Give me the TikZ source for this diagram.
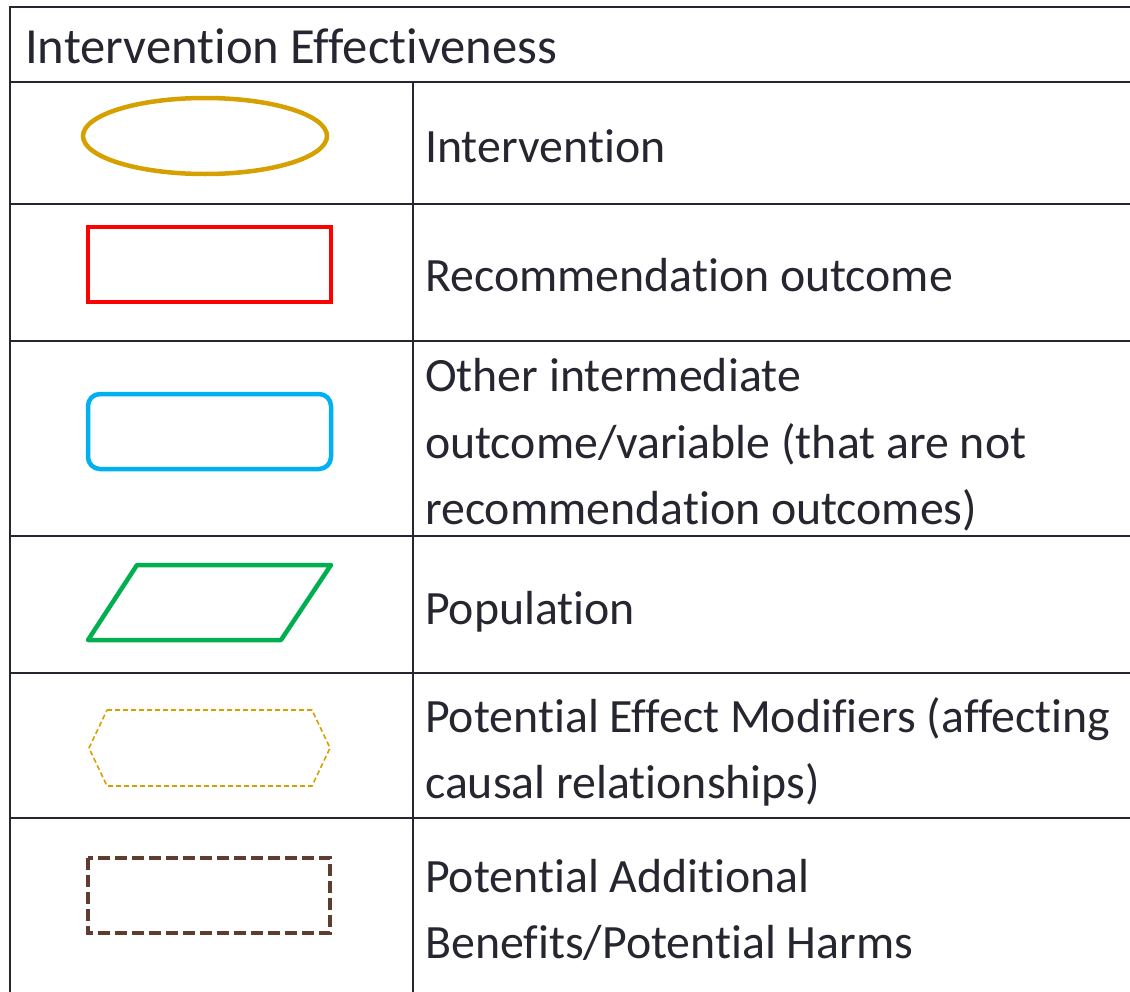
\documentclass[tikz,border=0pt]{standalone}
\usepackage{fontspec}
\setmainfont{Carlito}[Ligatures={NoCommon,NoRare,NoDiscretionary}]
\definecolor{ink}{RGB}{38,38,48}
\definecolor{gold}{RGB}{214,161,0}
\definecolor{sky}{RGB}{0,176,240}
\definecolor{grn}{RGB}{0,176,80}
\definecolor{brn}{RGB}{96,59,47}
\begin{document}
\begin{tikzpicture}[x=1bp,y=-1bp,
  grid/.style={draw=ink,line width=2.2bp},
  lbl/.style={anchor=base west,inner sep=0pt,text=ink,font=\fontsize{48}{66}\selectfont},
  sym/.style={line width=4.5bp}]
\useasboundingbox (0,0) rectangle (1130,992);
% table
\draw[grid] (1135,7) -- (10,7) -- (10,997);
\draw[grid] (10,82) -- (1135,82);
\draw[grid] (10,204) -- (1135,204);
\draw[grid] (10,341) -- (1135,341);
\draw[grid] (10,536) -- (1135,536);
\draw[grid] (10,673) -- (1135,673);
\draw[grid] (10,818) -- (1135,818);
\draw[grid] (413,82) -- (413,997);
% texts
\node[lbl,font=\fontsize{50.8}{66}\selectfont] (title) at (25,63) {Intervention Effectiveness};
\node[lbl] (t1) at (425,162) {Intervention};
\node[lbl] (t2) at (425,291) {Recommendation outcome};
\node[lbl] (t3a) at (425,391) {Other intermediate};
\node[lbl] (t3b) at (425,458) {outcome/variable (that are not};
\node[lbl] (t3c) at (425,524) {recommendation outcomes)};
\node[lbl] (t4) at (425,624) {Population};
\node[lbl] (t5a) at (425,732) {Potential Effect Modifiers (affecting};
\node[lbl] (t5b) at (425,798) {causal relationships)};
\node[lbl] (t6a) at (425,892) {Potential Additional};
\node[lbl] (t6b) at (425,958) {Benefits/Potential Harms};
% symbols
\draw[sym,gold] (205,136) ellipse [x radius=122,y radius=38];
\draw[sym,red] (88,227) rectangle (331,302);
\draw[sym,sky,rounded corners=12bp] (88,394) rectangle (331,469);
\draw[sym,grn,line join=round] (88,640) -- (137,565) -- (331,565) -- (281,640) -- cycle;
\draw[gold,line width=1.6bp,dash pattern=on 5bp off 3bp] (107,710) -- (312,710) -- (330,748) -- (312,786) -- (107,786) -- (89,748) -- cycle;
\draw[brn,line width=3.5bp,dash pattern=on 12bp off 5bp] (88,858) rectangle (330,933);
\end{tikzpicture}
\end{document}
